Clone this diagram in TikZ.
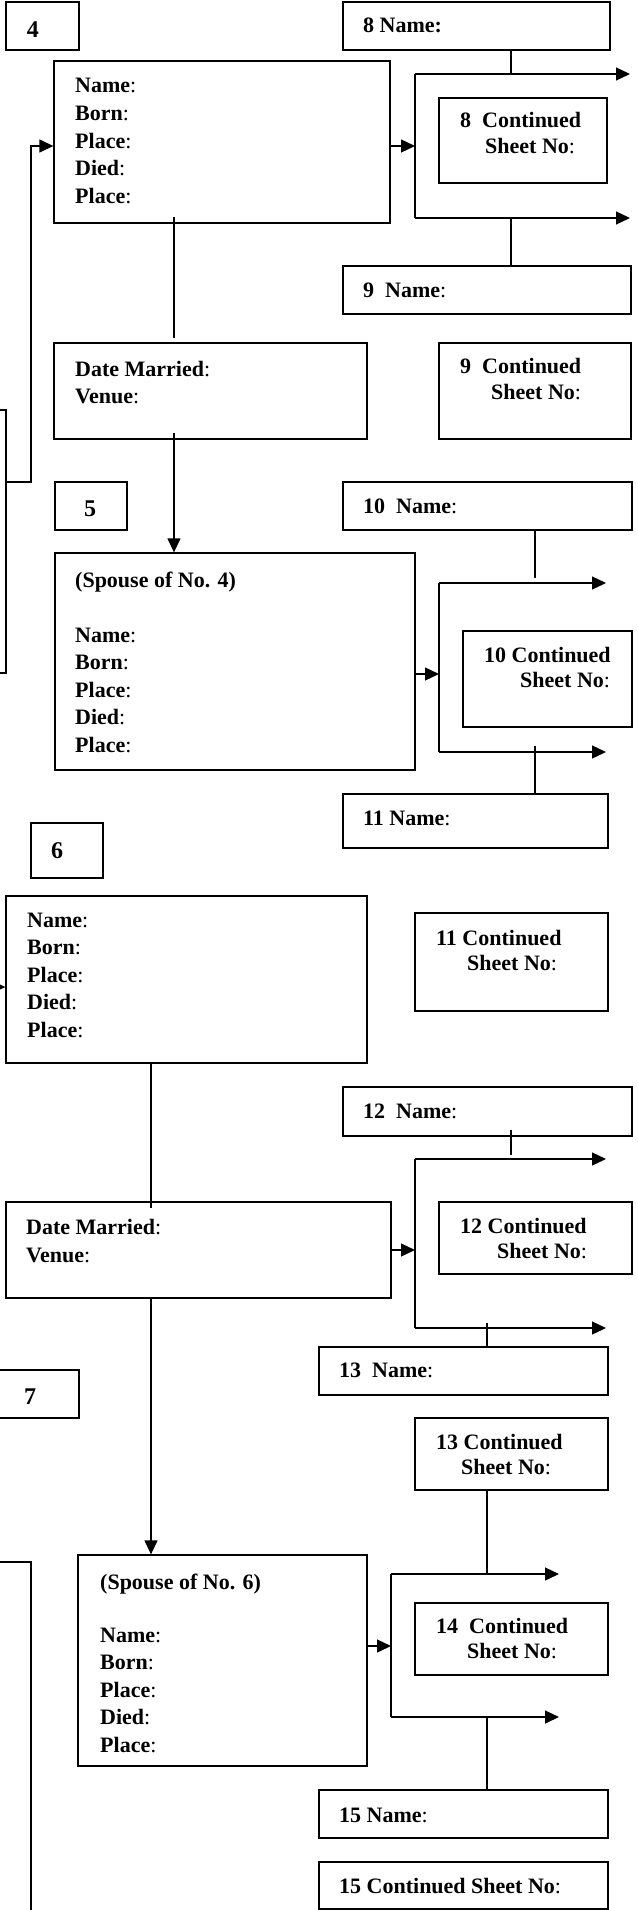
\documentclass[tikz,border=0pt]{standalone}
\usepackage{fontspec}
\setmainfont{Liberation Serif}
\usetikzlibrary{arrows.meta,fit}
\newcommand\prows[3]{\foreach \w [count=\i from 0] in {Name,Born,Place,Died,Place}{\node[txt] (#1-\i) at (#2,{#3+27.6*\i}) {\textbf{\w}:};}}
\begin{document}
\begin{tikzpicture}[x=1pt,y=-1pt,
  box/.style={draw, line width=1.3pt, inner sep=0pt},
  ln/.style={line width=1.3pt},
  arr/.style={line width=1.3pt, -{Triangle[length=14pt,width=13pt]}},
  txt/.style={anchor=base west, inner sep=0pt, font=\fontsize{22}{27}\selectfont},
  num/.style={inner sep=0pt, font=\fontsize{24}{28}\selectfont\bfseries}]
\useasboundingbox (0,0) rectangle (637,1910);
\fill[white] (0,0) rectangle (637,1910);

% ---------- generation 4 ----------
\node[box, fit={(6,2) (79,50)}] (n4) {};
\node[num] (n4t) at (33,30) {4};
\node[box, fit={(54,61) (390,223)}] (b4) {};
\prows{b4t}{75}{93}
\node[box, fit={(343,2) (610,50)}] (n8) {};
\node[txt] (n8t) at (363,33) {\textbf{8 Name:}};
\node[box, fit={(439,98) (607,183)}] (c8) {};
\node[txt] (c8a) at (460,128) {\textbf{8\ \ Continued}};
\node[txt] (c8b) at (485,154) {\textbf{Sheet No}:};
\node[box, fit={(343,266) (631,314)}] (n9) {};
\node[txt] (n9t) at (363,297) {\textbf{9\ \ Name}:};
\node[box, fit={(54,343) (367,439)}] (dm4) {};
\node[txt] (dm4a) at (75,376) {\textbf{Date Married}:};
\node[txt] (dm4b) at (75,403) {\textbf{Venue}:};
\node[box, fit={(439,343) (631,439)}] (c9) {};
\node[txt] (c9a) at (460,373) {\textbf{9\ \ Continued}};
\node[txt] (c9b) at (491,399) {\textbf{Sheet No}:};

\coordinate (k8t) at (415,74);
\coordinate (k8b) at (415,218);
\coordinate (k8m) at (415,146);
\coordinate (k8te) at (630,74);
\coordinate (k8be) at (630,218);
\coordinate (k8j) at (511,74);
\coordinate (k8k) at (511,218);
\draw[ln] (n8.south -| k8j) -- (k8j);
\draw[arr] (k8t) -- (k8te);
\draw[ln] (k8t) -- (k8b);
\draw[arr] (k8b) -- (k8be);
\draw[arr] (b4.east |- k8m) -- (k8m);
\draw[ln] (k8k) -- (n9.north -| k8k);

\coordinate (v4a) at (174,217);
\coordinate (v4b) at (174,338);
\coordinate (v4c) at (174,433);
\draw[ln] (v4a) -- (v4b);

% left connectors
\coordinate (P1) at (-3,410);
\coordinate (P2) at (6,410);
\coordinate (P3) at (6,673);
\coordinate (P4) at (-3,673);
\draw[ln] (P1) -- (P2) -- (P3) -- (P4);
\coordinate (L1) at (6,482);
\coordinate (L2) at (31,482);
\coordinate (L3) at (31,146);
\draw[arr] (L1) -- (L2) -- (L3) -- (b4.west |- L3);

% ---------- generation 5 ----------
\node[box, fit={(55,482) (127,530)}] (n5) {};
\node[num] (n5t) at (90,509) {5};
\node[box, fit={(55,553) (415,770)}] (s5) {};
\node[txt] (s5h) at (75,587) {\textbf{(Spouse of No. 4)}};
\prows{s5t}{75}{642}
\draw[arr] (v4c) -- (s5.north -| v4c);

\node[box, fit={(343,482) (632,530)}] (n10) {};
\node[txt] (n10t) at (363,513) {\textbf{10\ \ Name}:};
\node[box, fit={(463,631) (632,727)}] (c10) {};
\node[txt] (c10a) at (484,662) {\textbf{10 Continued}};
\node[txt] (c10b) at (520,687) {\textbf{Sheet No}:};
\node[box, fit={(343,794) (608,848)}] (n11) {};
\node[txt] (n11t) at (363,825) {\textbf{11 Name}:};

\coordinate (k10t) at (439,583);
\coordinate (k10b) at (439,752);
\coordinate (k10m) at (439,674);
\coordinate (k10te) at (606,583);
\coordinate (k10be) at (606,752);
\coordinate (k10j) at (535,578);
\coordinate (k10k) at (535,746);
\draw[ln] (n10.south -| k10j) -- (k10j);
\draw[arr] (k10t) -- (k10te);
\draw[ln] (k10t) -- (k10b);
\draw[arr] (k10b) -- (k10be);
\draw[arr] (s5.east |- k10m) -- (k10m);
\draw[ln] (k10k) -- (n11.north -| k10k);

% ---------- generation 6 ----------
\node[box, fit={(31,823) (103,878)}] (n6) {};
\node[num] (n6t) at (57,851) {6};
\node[box, fit={(6,896) (367,1063)}] (b6) {};
\prows{b6t}{27}{927}
\coordinate (A6) at (-20,987);
\draw[arr] (A6) -- (b6.west |- A6);

\node[box, fit={(415,913) (608,1011)}] (c11) {};
\node[txt] (c11a) at (436,945) {\textbf{11 Continued}};
\node[txt] (c11b) at (467,970) {\textbf{Sheet No}:};
\node[box, fit={(343,1087) (632,1136)}] (n12) {};
\node[txt] (n12t) at (363,1118) {\textbf{12\ \ Name}:};
\node[box, fit={(6,1202) (391,1298)}] (dm6) {};
\node[txt] (dm6a) at (26,1234) {\textbf{Date Married}:};
\node[txt] (dm6b) at (26,1262) {\textbf{Venue}:};
\node[box, fit={(439,1202) (632,1274)}] (c12) {};
\node[txt] (c12a) at (460,1233) {\textbf{12 Continued}};
\node[txt] (c12b) at (497,1258) {\textbf{Sheet No}:};
\node[box, fit={(319,1347) (608,1395)}] (n13) {};
\node[txt] (n13t) at (339,1377) {\textbf{13\ \ Name}:};

\coordinate (v6) at (151,1208);
\draw[ln] (b6.south -| v6) -- (v6);

\coordinate (k12t) at (415,1159);
\coordinate (k12b) at (415,1328);
\coordinate (k12m) at (415,1250);
\coordinate (k12te) at (606,1159);
\coordinate (k12be) at (606,1328);
\coordinate (k12j) at (511,1130);
\coordinate (k12jj) at (511,1155);
\coordinate (k12k) at (487,1323);
\draw[ln] (k12j) -- (k12jj);
\draw[arr] (k12t) -- (k12te);
\draw[ln] (k12t) -- (k12b);
\draw[arr] (k12b) -- (k12be);
\draw[arr] (dm6.east |- k12m) -- (k12m);
\draw[ln] (k12k) -- (n13.north -| k12k);

% ---------- generation 7 ----------
\node[box, fit={(-5,1370) (79,1418)}] (n7) {};
\node[num] (n7t) at (30,1397) {7};
\node[box, fit={(78,1555) (367,1766)}] (s6) {};
\node[txt] (s6h) at (100,1589) {\textbf{(Spouse of No. 6)}};
\prows{s6t}{100}{1642}
\draw[arr] (dm6.south -| v6) -- (s6.north -| v6);

\coordinate (Q1) at (-3,1562);
\coordinate (Q2) at (31,1562);
\coordinate (Q3) at (31,1915);
\draw[ln] (Q1) -- (Q2) -- (Q3);

\node[box, fit={(415,1418) (608,1490)}] (c13) {};
\node[txt] (c13a) at (436,1449) {\textbf{13 Continued}};
\node[txt] (c13b) at (461,1474) {\textbf{Sheet No}:};
\node[box, fit={(415,1603) (608,1675)}] (c14) {};
\node[txt] (c14a) at (436,1633) {\textbf{14\ \ Continued}};
\node[txt] (c14b) at (467,1658) {\textbf{Sheet No}:};
\node[box, fit={(319,1790) (608,1838)}] (n15) {};
\node[txt] (n15t) at (339,1822) {\textbf{15 Name}:};
\node[box, fit={(319,1862) (608,1909)}] (c15) {};
\node[txt] (c15t) at (339,1893) {\textbf{15 Continued Sheet No}:};

\coordinate (k14t) at (391,1574);
\coordinate (k14b) at (391,1717);
\coordinate (k14m) at (391,1646);
\coordinate (k14te) at (559,1574);
\coordinate (k14be) at (559,1717);
\coordinate (k14j) at (487,1574);
\coordinate (k14k) at (487,1717);
\draw[ln] (c13.south -| k14j) -- (k14j);
\draw[arr] (k14t) -- (k14te);
\draw[ln] (k14t) -- (k14b);
\draw[arr] (k14b) -- (k14be);
\draw[arr] (s6.east |- k14m) -- (k14m);
\draw[ln] (k14k) -- (n15.north -| k14k);
\end{tikzpicture}
\end{document}
